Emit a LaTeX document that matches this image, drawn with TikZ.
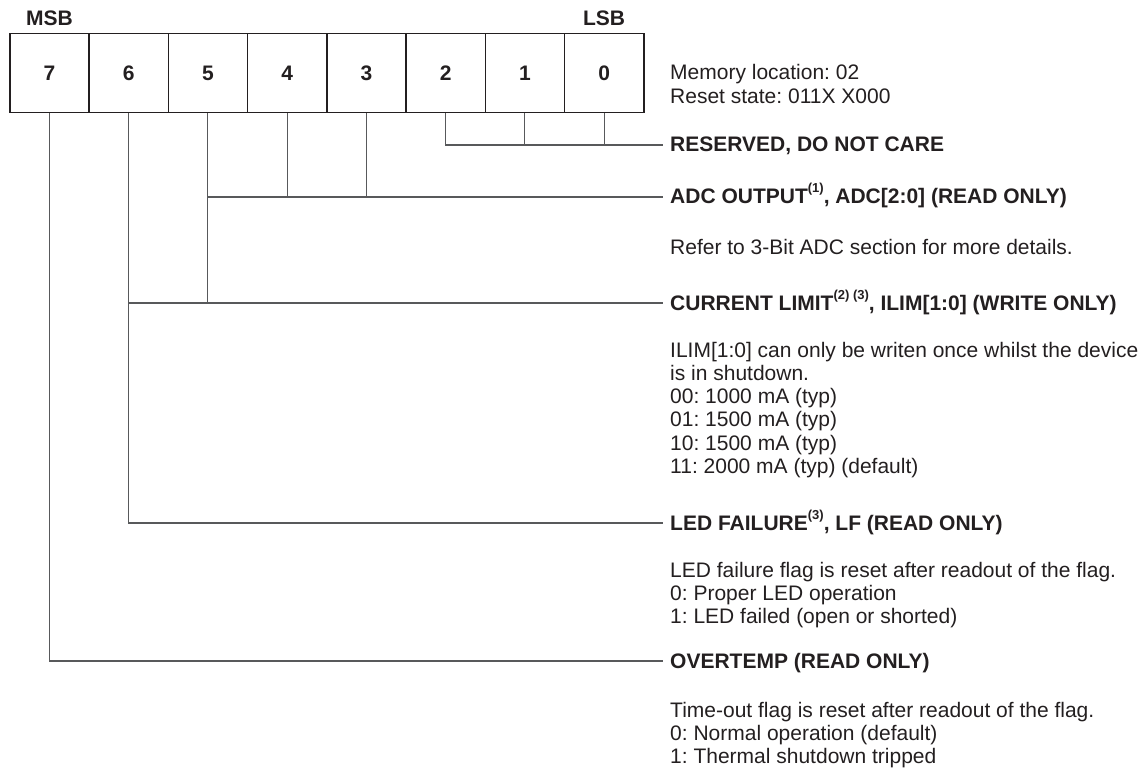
\documentclass[tikz,border=0pt]{standalone}
\usepackage{fontspec}
\setmainfont{Liberation Sans}
\frenchspacing
\definecolor{ink}{HTML}{231F20}
\definecolor{wirec}{HTML}{58595B}
\newcommand{\ml}[1]{\begin{tabular}[t]{@{}l@{}}#1\end{tabular}}
\newcommand{\sups}[1]{\raisebox{11pt}{\fontsize{13}{13}\selectfont #1}}
\begin{document}
\begin{tikzpicture}[x=1pt,y=-1pt,
  bitbox/.style={draw=ink, line width=1.5pt, minimum width=79.25pt, minimum height=79pt, inner sep=0pt, font=\fontsize{21}{23.3}\selectfont\bfseries, text=ink, anchor=north west},
  head/.style={anchor=base west, inner sep=0pt, font=\fontsize{21}{23.3}\selectfont\bfseries\frenchspacing, text=ink},
  body/.style={anchor=base west, inner sep=0pt, font=\fontsize{21}{23.3}\selectfont\frenchspacing, text=ink},
  wire/.style={draw=wirec, line width=1.1pt}]
\useasboundingbox (0,0) rectangle (1145,770);
\foreach \b [count=\i from 0] in {7,6,...,0}
  \node[bitbox] (b\b) at ({9+\i*79.25},33) {\b};
\node[head, anchor=base] (msb) at (b7.north |- 0,26) {MSB};
\node[head, anchor=base] (lsb) at (b0.north |- 0,26) {LSB};
\coordinate (eRes) at (663,145);
\coordinate (eAdc) at (663,197);
\coordinate (eCur) at (663,303);
\coordinate (eLed) at (663,523);
\coordinate (eOver) at (663,661);
\draw[wire] (b2.south) |- (eRes);
\draw[wire] (b1.south) -- (b1.south |- eRes);
\draw[wire] (b0.south) -- (b0.south |- eRes);
\draw[wire] (b5.south) -- (b5.south |- eCur);
\draw[wire] (b5.south |- eAdc) -- (eAdc);
\draw[wire] (b4.south) -- (b4.south |- eAdc);
\draw[wire] (b3.south) -- (b3.south |- eAdc);
\draw[wire] (b6.south |- eCur) -- (eCur);
\draw[wire] (b6.south) |- (eLed);
\draw[wire] (b7.south) |- (eOver);
\node[body] (mem) at (670,80) {\ml{Memory location: 02\\Reset state: 011X X000}};
\node[head] (hRes) at (670,152) {RESERVED, DO NOT CARE};
\node[head] (hAdc) at (670,204) {ADC OUTPUT\sups{(1)}, ADC[2:0] (READ ONLY)};
\node[body] (dAdc) at (670,254) {Refer to 3-Bit ADC section for more details.};
\node[head] (hCur) at (670,310) {CURRENT LIMIT\sups{(2) (3)}, ILIM[1:0] (WRITE ONLY)};
\node[body] (dCur) at (670,357) {\ml{ILIM[1:0] can only be writen once whilst the device\\is in shutdown.\\00: 1000 mA (typ)\\01: 1500 mA (typ)\\10: 1500 mA (typ)\\11: 2000 mA (typ) (default)}};
\node[head] (hLed) at (670,530) {LED FAILURE\sups{(3)}, LF (READ ONLY)};
\node[body] (dLed) at (670,577) {\ml{LED failure flag is reset after readout of the flag.\\0: Proper LED operation\\1: LED failed (open or shorted)}};
\node[head] (hOver) at (670,668) {OVERTEMP (READ ONLY)};
\node[body] (dOver) at (670,717) {\ml{Time-out flag is reset after readout of the flag.\\0: Normal operation (default)\\1: Thermal shutdown tripped}};
\end{tikzpicture}
\end{document}
